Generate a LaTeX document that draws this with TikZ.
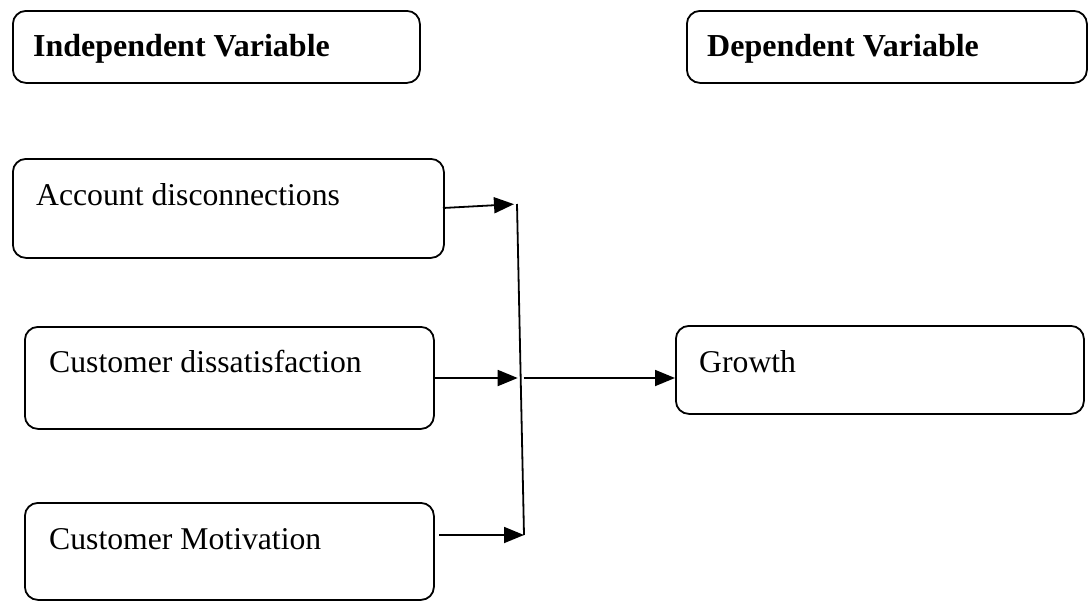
\documentclass[tikz,border=0pt]{standalone}
\usepackage{fontspec}
\setmainfont{Liberation Serif}
\usetikzlibrary{arrows.meta,calc}
\begin{document}
\begin{tikzpicture}[x=1pt,y=-1pt,
  box/.style={draw,line width=1.8pt,rounded corners=13pt,anchor=north west,inner sep=0pt},
  lbl/.style={anchor=base west,inner sep=0pt,font=\fontsize{31.7}{36}\selectfont},
  hlbl/.style={lbl,font=\fontsize{32}{36}\selectfont\bfseries},
  conn/.style={line width=1.8pt},
  arr/.style={conn,-{Triangle[length=20pt,width=16pt]}}]
\useasboundingbox (0,0) rectangle (1089,600);
% boxes
\node[box,minimum width=407pt,minimum height=72pt] (ind) at (12,10) {};
\node[box,minimum width=400pt,minimum height=72pt] (dep) at (686,10) {};
\node[box,minimum width=431pt,minimum height=99pt] (acc) at (12,158) {};
\node[box,minimum width=409pt,minimum height=102pt] (dis) at (24,326) {};
\node[box,minimum width=409pt,minimum height=97pt] (mot) at (24,502) {};
\node[box,minimum width=408pt,minimum height=88pt] (gro) at (675,325) {};
% labels
\node[hlbl] (indt) at (33,56) {Independent Variable};
\node[hlbl] (dept) at (707,56) {Dependent Variable};
\node[lbl] (acct) at (36,205) {Account disconnections};
\node[lbl] (dist) at (49,372) {Customer dissatisfaction};
\node[lbl] (mott) at (49,549) {Customer Motivation};
\node[lbl] (grot) at (699,372) {Growth};
% junction
\coordinate (jt) at (517,204);
\coordinate (jm) at (520.7,378);
\coordinate (jb) at (524,535);
\coordinate (a1) at (443,208);
\coordinate (a2) at (433,378);
\coordinate (a3) at (439,535);
\draw[conn] (jt) -- (jb);
\draw[arr,shorten >=3pt] (a1) -- (jt);
\draw[arr,shorten >=3pt] (a2) -- (jm);
\draw[arr] (a3) -- (jb);
\draw[arr] ($(jm)+(3,0)$) -- (gro.west |- jm);
\end{tikzpicture}
\end{document}
